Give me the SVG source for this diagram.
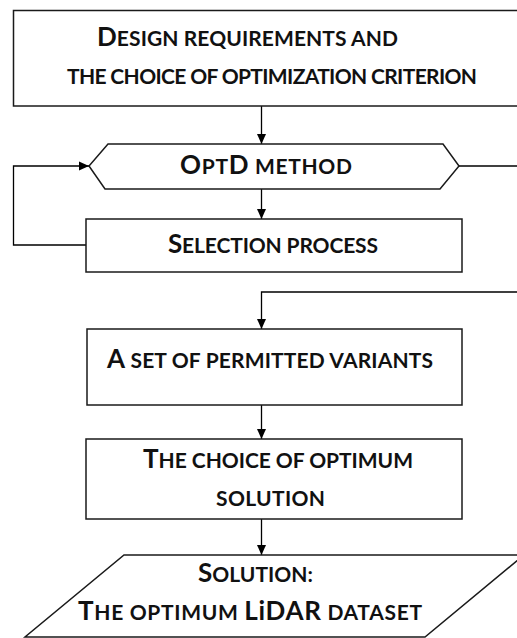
<svg xmlns="http://www.w3.org/2000/svg" width="517" height="638" viewBox="0 0 517 638">
<defs>
<style>
.box{fill:#fff;stroke:#1a1a1a;stroke-width:1.5}
.ln{fill:none;stroke:#000;stroke-width:1.3}
.t{font-family:Lato,"Open Sans",sans-serif;font-weight:bold;fill:#111;font-size:21px}
.c{font-size:26px}
</style>
<marker id="ah" viewBox="0 0 10 10" refX="10" refY="5" markerWidth="10" markerHeight="10" markerUnits="userSpaceOnUse" orient="auto">
<path d="M0,0.5 L10,5 L0,9.5 Z" fill="#000"/>
</marker>
</defs>
<rect width="517" height="638" fill="#fff"/>
<g id="connectors">
<path class="ln" d="M261.5,106 V144" marker-end="url(#ah)"/>
<path class="ln" d="M261.5,189 V219" marker-end="url(#ah)"/>
<path class="ln" d="M86,245 H13.5 V166 H89" marker-end="url(#ah)"/>
<path class="ln" d="M459,166 H520"/>
<path class="ln" d="M520,292 H261.5 V329" marker-end="url(#ah)"/>
<path class="ln" d="M261.5,405 V439" marker-end="url(#ah)"/>
<path class="ln" d="M261.5,519 V555" marker-end="url(#ah)"/>
</g>
<g id="design">
<rect class="box" x="13.5" y="10.5" width="510" height="95.5"/>
<text class="t" x="97" y="46" textLength="301" lengthAdjust="spacing"><tspan class="c">D</tspan>ESIGN REQUIREMENTS AND</text>
<text class="t" x="67" y="84" textLength="410" lengthAdjust="spacing">THE CHOICE OF OPTIMIZATION CRITERION</text>
</g>
<g id="optd">
<polygon class="box" points="108,144 443,144 459,166 440,189 105,189 89,166"/>
<text class="t" x="180" y="174" textLength="172" lengthAdjust="spacing"><tspan class="c">O</tspan>PT<tspan class="c">D</tspan> METHOD</text>
</g>
<g id="selection">
<rect class="box" x="86" y="219" width="376" height="53"/>
<text class="t" x="168" y="253" textLength="210" lengthAdjust="spacing"><tspan class="c">S</tspan>ELECTION PROCESS</text>
</g>
<g id="permitted">
<rect class="box" x="87" y="329" width="375" height="76"/>
<text class="t" x="107" y="368" textLength="326" lengthAdjust="spacing"><tspan class="c">A</tspan> SET OF PERMITTED  VARIANTS</text>
</g>
<g id="choice">
<rect class="box" x="86" y="439" width="376" height="80"/>
<text class="t" x="143" y="468" textLength="270" lengthAdjust="spacing"><tspan class="c">T</tspan>HE CHOICE OF OPTIMUM</text>
<text class="t" x="216" y="506" textLength="109" lengthAdjust="spacing">SOLUTION</text>
</g>
<g id="solution">
<polygon class="box" points="124,555 524,555 425,637 25,637"/>
<text class="t" x="198" y="582" textLength="115" lengthAdjust="spacing"><tspan class="c">S</tspan>OLUTION:</text>
<text class="t" x="78" y="620" textLength="344" lengthAdjust="spacing"><tspan class="c">T</tspan>HE OPTIMUM <tspan class="c">L</tspan><tspan class="c">i</tspan><tspan class="c">DAR</tspan> DATASET</text>
</g>
</svg>
